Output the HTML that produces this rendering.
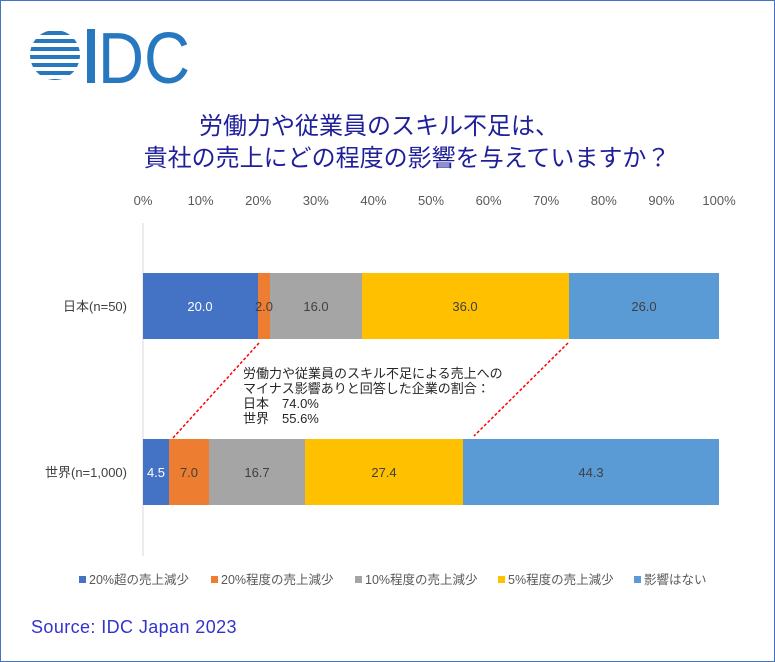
<!DOCTYPE html>
<html><head><meta charset="utf-8"><style>
body{margin:0}
#c{position:relative;width:773px;height:660px;border:1px solid #4472c4;background:#fff;font-family:"Liberation Sans","Noto Sans CJK JP",sans-serif;overflow:hidden}
</style></head><body><div id="c">
<svg width="773" height="660" style="position:absolute;left:0;top:0" font-family="Liberation Sans, Noto Sans CJK JP, sans-serif">
<g fill="#2878c0">
<clipPath id="cc"><circle cx="54" cy="54" r="25"/></clipPath>
<g clip-path="url(#cc)">
<rect x="28" y="30" width="52" height="4"/><rect x="28" y="38" width="52" height="4"/><rect x="28" y="46" width="52" height="4"/><rect x="28" y="54" width="52" height="4"/><rect x="28" y="62" width="52" height="4"/><rect x="28" y="70" width="52" height="4"/><rect x="28" y="78" width="52" height="4"/>
</g>
<rect x="86" y="28" width="8" height="54"/>
</g>
<text x="97" y="82" font-size="72" fill="#2878c0" textLength="92" lengthAdjust="spacingAndGlyphs">DC</text>
<g font-size="13" fill="#595959" text-anchor="middle">
<text x="142" y="204">0%</text><text x="199.6" y="204">10%</text><text x="257.2" y="204">20%</text><text x="314.8" y="204">30%</text><text x="372.4" y="204">40%</text><text x="430" y="204">50%</text><text x="487.6" y="204">60%</text><text x="545.2" y="204">70%</text><text x="602.8" y="204">80%</text><text x="660.4" y="204">90%</text><text x="718" y="204">100%</text>
</g>
<line x1="142" y1="222" x2="142" y2="555" stroke="#d9d9d9"/>
<rect x="142" y="272" width="115" height="66" fill="#4472c4"/>
<rect x="257" y="272" width="12" height="66" fill="#ed7d31"/>
<rect x="269" y="272" width="92" height="66" fill="#a5a5a5"/>
<rect x="361" y="272" width="207" height="66" fill="#ffc000"/>
<rect x="568" y="272" width="150" height="66" fill="#5b9bd5"/>
<rect x="142" y="438" width="26" height="66" fill="#4472c4"/>
<rect x="168" y="438" width="40" height="66" fill="#ed7d31"/>
<rect x="208" y="438" width="96" height="66" fill="#a5a5a5"/>
<rect x="304" y="438" width="158" height="66" fill="#ffc000"/>
<rect x="462" y="438" width="256" height="66" fill="#5b9bd5"/>
<g font-size="13" text-anchor="middle" fill="#404040">
<text x="199" y="310" fill="#fff">20.0</text><text x="263" y="310">2.0</text><text x="315" y="310">16.0</text><text x="464" y="310">36.0</text><text x="643" y="310">26.0</text>
<text x="155" y="476" fill="#fff">4.5</text><text x="188" y="476">7.0</text><text x="256" y="476">16.7</text><text x="383" y="476">27.4</text><text x="590" y="476">44.3</text>
</g>
<g font-size="13" fill="#404040" text-anchor="end">
<text x="126" y="310">日本(n=50)</text><text x="126" y="476">世界(n=1,000)</text>
</g>
<g stroke="#ff0000" stroke-width="1.5" stroke-dasharray="3,2">
<line x1="258" y1="342" x2="171" y2="438"/><line x1="567" y1="342" x2="473" y2="435"/>
</g>
<g font-size="13" fill="#262626">
<text x="242" y="377">労働力や従業員のスキル不足による売上への</text>
<text x="242" y="392">マイナス影響ありと回答した企業の割合：</text>
<text x="242" y="407">日本　74.0%</text>
<text x="242" y="422">世界　55.6%</text>
</g>
<g font-size="12.5" fill="#595959">
<rect x="78" y="575" width="7" height="7" fill="#4472c4"/><text x="88" y="583">20%超の売上減少</text>
<rect x="210" y="575" width="7" height="7" fill="#ed7d31"/><text x="220" y="583">20%程度の売上減少</text>
<rect x="354" y="575" width="7" height="7" fill="#a5a5a5"/><text x="364" y="583">10%程度の売上減少</text>
<rect x="497" y="575" width="7" height="7" fill="#ffc000"/><text x="507" y="583">5%程度の売上減少</text>
<rect x="633" y="575" width="7" height="7" fill="#5b9bd5"/><text x="643" y="583">影響はない</text>
</g>
<g font-size="24" fill="#1f1f9a" text-anchor="middle">
<text x="378" y="133">労働力や従業員のスキル不足は、</text>
<text x="406" y="165">貴社の売上にどの程度の影響を与えていますか？</text>
</g>
<text x="30" y="632" font-size="18" fill="#3333cc" letter-spacing="0.4">Source: IDC Japan 2023</text>
</svg>
</div></body></html>
